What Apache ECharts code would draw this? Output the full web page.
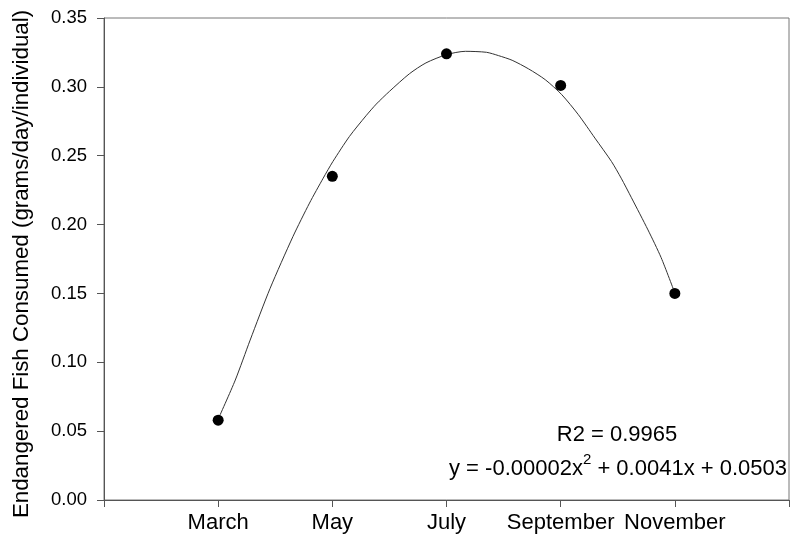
<!DOCTYPE html>
<html>
<head>
<meta charset="utf-8">
<script src="https://cdn.jsdelivr.net/npm/echarts@6/dist/echarts.min.js"></script>
<style>
  html, body { margin: 0; padding: 0; background: #fff; }
  #chart { width: 792px; height: 542px; }
</style>
</head>
<body>
<div id="chart"></div>
<script>
// Observed points (month number, value)
const obsMonths = [3, 5, 7, 9, 11];
const consumed = [0.058, 0.235, 0.324, 0.301, 0.150];

// Fitted curve
const fitMonths = [3.00, 3.30, 3.56, 3.91, 4.31, 4.60, 4.84, 5.01, 5.30, 5.59, 5.77, 6.00, 6.35, 6.64, 7.00, 7.33, 7.70, 7.91, 8.15, 8.44, 8.73, 9.02, 9.31, 9.60, 9.89, 10.06, 10.24, 10.53, 10.76, 11.00];
const fitValues = [0.0587, 0.0871, 0.1161, 0.1537, 0.1913, 0.2156, 0.2337, 0.2458, 0.2640, 0.2790, 0.2875, 0.2967, 0.3095, 0.3174, 0.3234, 0.3258, 0.3251, 0.3227, 0.3193, 0.3130, 0.3052, 0.2943, 0.2798, 0.2628, 0.2458, 0.2337, 0.2195, 0.1961, 0.1760, 0.1503];

// Tick labels
const monthTicks = [3, 5, 7, 9, 11];
const monthNames = ['March', 'May', 'July', 'September', 'November'];
const yTitle = 'Endangered Fish Consumed (grams/day/individual)';
const r2Text = 'R2 = 0.9965';
const eqParts = ['y = -0.00002x', '2', ' + 0.0041x + 0.0503'];

const FONT = '"Liberation Sans", Arial, sans-serif';
const chart = echarts.init(document.getElementById('chart'), null, { renderer: 'canvas' });

const option = {
  animation: false,
  backgroundColor: '#fff',
  grid: {
    left: 104, right: 1, top: 18, bottom: 42,
    show: true, borderColor: '#777', borderWidth: 1, backgroundColor: 'transparent'
  },
  xAxis: {
    type: 'value', min: 1, max: 13, interval: 2,
    axisLine: { show: true, lineStyle: { color: '#555', width: 1 } },
    axisTick: { show: true, length: 7, lineStyle: { color: '#555' } },
    splitLine: { show: false },
    axisLabel: {
      fontFamily: FONT, fontSize: 22, color: '#000', margin: 12,
      formatter: function (v) {
        const i = monthTicks.indexOf(Math.round(v));
        return i >= 0 ? monthNames[i] : '';
      }
    }
  },
  yAxis: {
    type: 'value', min: 0, max: 0.35, interval: 0.05,
    axisLine: { show: true, lineStyle: { color: '#555', width: 1 } },
    axisTick: { show: true, length: 7, lineStyle: { color: '#555' } },
    splitLine: { show: false },
    axisLabel: {
      fontFamily: FONT, fontSize: 18.5, color: '#000', margin: 17,
      formatter: function (v) { return v.toFixed(2); }
    }
  },
  series: [
    {
      type: 'line',
      data: fitMonths.map((m, i) => [m, fitValues[i]]),
      smooth: 0.25,
      showSymbol: false,
      lineStyle: { color: '#333', width: 1 },
      z: 2
    },
    {
      type: 'scatter',
      data: obsMonths.map((m, i) => [m, consumed[i]]),
      symbol: 'circle',
      symbolSize: 11,
      itemStyle: { color: '#000', opacity: 1 },
      z: 3
    }
  ],
  graphic: [
    {
      type: 'text', x: 22, y: 264, rotation: Math.PI / 2,
      style: { text: yTitle, fontFamily: FONT, fontSize: 22.3, fill: '#000', align: 'center', verticalAlign: 'middle' }
    },
    {
      type: 'text', x: 617, y: 434.5,
      style: { text: r2Text, fontFamily: FONT, fontSize: 22, fill: '#000', align: 'center', verticalAlign: 'middle' }
    },
    {
      type: 'text', x: 618, y: 466,
      style: {
        text: '{a|' + eqParts[0] + '}{s|' + eqParts[1] + '}{a|' + eqParts[2] + '}',
        align: 'center', verticalAlign: 'middle',
        rich: {
          a: { fontFamily: FONT, fontSize: 22, fill: '#000', lineHeight: 28, verticalAlign: 'bottom' },
          s: { fontFamily: FONT, fontSize: 15, fill: '#000', lineHeight: 14, verticalAlign: 'top' }
        }
      }
    }
  ]
};
chart.setOption(option);
</script>
</body>
</html>
